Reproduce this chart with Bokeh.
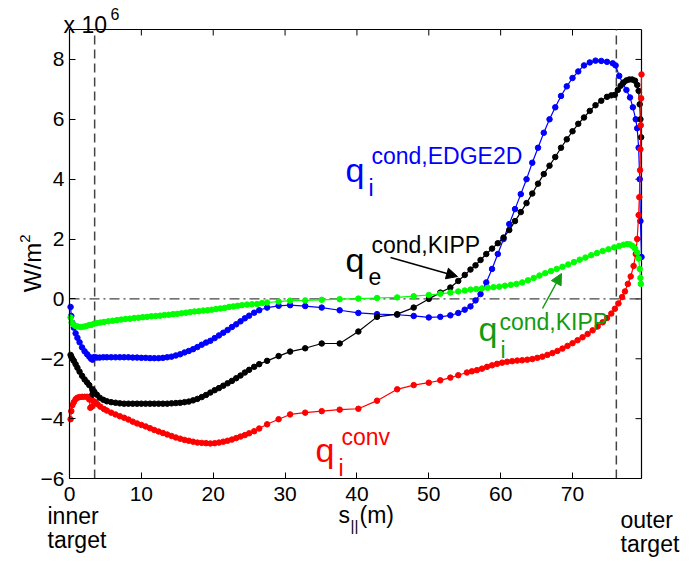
import numpy as np
from bokeh.plotting import figure
from bokeh.models import Label, LinearAxis, FixedTicker, Range1d, Arrow, NormalHead
from bokeh.embed import file_html
from bokeh.resources import INLINE

# ---------------- data (values in units of 1e6 W/m^2) ----------------
x_ticks = [0, 10, 20, 30, 40, 50, 60, 70]
y_ticks = [-6, -4, -2, 0, 2, 4, 6, 8]
target_lines = [3.5, 76.1]

s_blue = [0.15, 0.25, 0.4, 0.6, 0.85, 1.1, 1.4, 1.75, 2.1, 2.45,
          2.75, 3.0, 3.2, 3.45, 3.8, 4.2, 4.7, 5.2, 5.8, 6.4,
          7.0, 7.6, 8.2, 8.8, 9.4, 10.0, 10.6, 11.2, 11.8, 12.4,
          13.0, 13.6, 14.2, 14.8, 15.4, 16.0, 16.6, 17.2, 17.8, 18.4,
          19.0, 19.6, 20.2, 20.8, 21.4, 22.0, 22.6, 23.2, 23.8, 24.4,
          25.0, 25.7, 26.4, 27.5, 29.1, 30.7, 32.8, 35.1, 37.6, 40.2,
          42.8, 45.6, 47.9, 50.0, 51.6, 53.0, 54.1, 55.0, 55.8, 56.5,
          57.2, 58.0, 58.8, 59.6, 60.4, 61.2, 62.0, 62.8, 63.6, 64.4,
          65.2, 66.0, 66.8, 67.6, 68.4, 69.2, 70.0, 70.8, 71.6, 72.4,
          73.2, 74.0, 74.8, 75.6, 76.0, 76.5, 77.0, 77.5, 78.0, 78.4,
          78.8, 79.0, 79.2, 79.35, 79.45, 79.6]
q_blue = [-0.27, -0.57, -0.8, -0.96, -1.15, -1.3, -1.45, -1.62, -1.75, -1.85,
          -1.93, -2.0, -2.03, -1.94, -1.96, -1.96, -1.95, -1.95, -1.95, -1.95,
          -1.95, -1.95, -1.95, -1.96, -1.96, -1.97, -1.97, -1.98, -1.98, -1.98,
          -1.97, -1.95, -1.93, -1.89, -1.85, -1.79, -1.74, -1.68, -1.61, -1.53,
          -1.46, -1.40, -1.31, -1.22, -1.13, -1.04, -0.94, -0.85, -0.75, -0.65,
          -0.56, -0.46, -0.38, -0.29, -0.23, -0.21, -0.24, -0.29, -0.38, -0.47,
          -0.51, -0.53, -0.57, -0.62, -0.6, -0.55, -0.47, -0.36, -0.25, -0.05,
          0.16, 0.55, 1.0, 1.5, 2.0, 2.5, 3.0, 3.5, 4.0, 4.55,
          5.05, 5.55, 6.0, 6.4, 6.78, 7.1, 7.38, 7.6, 7.8, 7.9,
          7.96, 7.95, 7.92, 7.87, 7.8, 7.45, 7.2, 6.98, 6.73, 6.4,
          6.0, 5.7, 5.05, 4.0, 2.6, 1.4]

s_black = [0.15, 0.25, 0.4, 0.6, 0.85, 1.1, 1.4, 1.75, 2.1, 2.45,
           2.75, 3.0, 3.2, 3.45, 3.8, 4.2, 4.7, 5.2, 5.8, 6.4,
           7.0, 7.6, 8.2, 8.8, 9.4, 10.0, 10.6, 11.2, 11.8, 12.4,
           13.0, 13.6, 14.2, 14.8, 15.4, 16.0, 16.6, 17.2, 17.8, 18.4,
           19.0, 19.6, 20.2, 20.8, 21.4, 22.0, 22.6, 23.2, 23.8, 24.4,
           25.0, 25.7, 26.4, 27.5, 29.1, 30.7, 32.8, 35.1, 37.6, 40.2,
           42.8, 45.6, 47.9, 50.0, 51.6, 53.0, 54.1, 55.0, 55.8, 56.5,
           57.2, 58.0, 58.8, 59.6, 60.4, 61.2, 62.0, 62.8, 63.6, 64.4,
           65.2, 66.0, 66.8, 67.6, 68.4, 69.2, 70.0, 70.8, 71.6, 72.4,
           73.2, 74.0, 74.8, 75.4, 75.9, 76.3, 76.7, 77.1, 77.5, 77.9,
           78.3, 78.7, 79.0, 79.2, 79.35, 79.45, 79.55]
q_black = [-1.87, -1.93, -2.0, -2.07, -2.18, -2.3, -2.43, -2.57, -2.69, -2.79,
           -2.88, -3.25, -3.02, -3.1, -3.2, -3.3, -3.37, -3.42, -3.45, -3.47,
           -3.49, -3.5, -3.5, -3.5, -3.5, -3.5, -3.5, -3.5, -3.5, -3.5,
           -3.5, -3.5, -3.49, -3.48, -3.47, -3.45, -3.43, -3.39, -3.34, -3.28,
           -3.21, -3.13, -3.05, -2.98, -2.9, -2.82, -2.74, -2.65, -2.56, -2.46,
           -2.37, -2.27, -2.18, -2.07, -1.91, -1.76, -1.65, -1.49, -1.49, -1.09,
           -0.6, -0.51, -0.29, 0.0, 0.21, 0.38, 0.6, 0.8, 0.98, 1.12,
           1.3, 1.5, 1.68, 1.86, 2.05, 2.3, 2.6, 2.9, 3.2, 3.52,
           3.85, 4.17, 4.45, 4.74, 5.05, 5.33, 5.6, 5.85, 6.06, 6.28,
           6.47, 6.62, 6.75, 6.8, 6.82, 6.98, 7.12, 7.23, 7.3, 7.33,
           7.33, 7.29, 7.15, 6.95, 6.5, 6.0, 5.4]

s_red = [0.15, 0.25, 0.4, 0.6, 0.85, 1.1, 1.4, 1.75, 2.1, 2.45,
         2.75, 2.9, 3.1, 3.3, 3.6, 3.9, 4.3, 4.8, 5.2, 5.8,
         6.4, 7.0, 7.6, 8.2, 8.8, 9.4, 10.0, 10.6, 11.2, 11.8,
         12.4, 13.0, 13.6, 14.2, 14.8, 15.4, 16.0, 16.6, 17.2, 17.8,
         18.4, 19.0, 19.6, 20.2, 20.8, 21.4, 22.0, 22.6, 23.2, 23.8,
         24.4, 25.0, 25.7, 26.4, 27.5, 29.1, 30.7, 32.8, 35.1, 37.6,
         40.2, 42.8, 45.6, 47.9, 50.0, 51.6, 53.0, 54.1, 55.3, 56.0,
         56.7, 57.4, 58.1, 58.8, 59.5, 60.2, 60.9, 61.6, 62.3, 63.0,
         63.7, 64.4, 65.1, 65.8, 66.5, 67.2, 67.9, 68.6, 69.3, 70.0,
         70.7, 71.4, 72.1, 72.8, 73.5, 74.2, 74.8, 75.4, 75.9, 76.4,
         76.9, 77.3, 77.7, 78.1, 78.5, 78.8, 79.0, 79.2, 79.3, 79.4,
         79.45, 79.5, 79.55, 79.6]
q_red = [-4.02, -3.75, -3.55, -3.45, -3.35, -3.3, -3.28, -3.27, -3.27, -3.27,
         -3.36, -3.64, -3.6, -3.41, -3.45, -3.52, -3.6, -3.68, -3.73, -3.8,
         -3.86, -3.92, -3.97, -4.03, -4.1, -4.16, -4.21, -4.26, -4.32, -4.38,
         -4.43, -4.48, -4.53, -4.58, -4.63, -4.67, -4.71, -4.74, -4.77, -4.8,
         -4.81, -4.82, -4.83, -4.82, -4.8, -4.77, -4.74, -4.7, -4.65, -4.6,
         -4.55, -4.49, -4.42, -4.33, -4.19, -4.02, -3.86, -3.80, -3.75, -3.7,
         -3.67, -3.4, -3.02, -2.88, -2.8, -2.72, -2.63, -2.55, -2.46, -2.42,
         -2.38, -2.33, -2.27, -2.22, -2.17, -2.13, -2.1, -2.08, -2.06, -2.05,
         -2.03, -2.01, -1.97, -1.93, -1.87, -1.81, -1.74, -1.66, -1.57, -1.48,
         -1.38, -1.28, -1.17, -1.05, -0.92, -0.78, -0.64, -0.49, -0.33, -0.15,
         0.06, 0.25, 0.5, 0.75, 1.1, 1.5, 2.0, 2.8, 3.4, 4.3,
         5.0, 5.8, 6.7, 7.5]

s_green = [0.15, 0.3, 0.5, 0.8, 1.1, 1.5, 1.9, 2.3, 2.7, 3.0,
           3.4, 3.8, 4.3, 4.8, 5.4, 6.0, 6.6, 7.2, 7.8, 8.4,
           9.0, 9.6, 10.2, 10.8, 11.4, 12.0, 12.6, 13.2, 13.8, 14.4,
           15.0, 15.6, 16.2, 16.8, 17.4, 18.0, 18.6, 19.2, 19.8, 20.4,
           21.0, 21.6, 22.2, 22.8, 23.4, 24.0, 24.7, 25.4, 26.1, 26.8,
           27.5, 29.1, 30.7, 32.8, 35.1, 37.6, 40.2, 42.8, 45.6, 47.9,
           50.0, 51.6, 53.0, 54.1, 55.0, 55.8, 56.6, 57.4, 58.2, 59.0,
           59.8, 60.6, 61.4, 62.2, 63.0, 63.8, 64.6, 65.4, 66.2, 67.0,
           67.8, 68.6, 69.4, 70.2, 71.0, 71.8, 72.6, 73.4, 74.2, 75.0,
           75.8, 76.5, 77.1, 77.6, 78.0, 78.4, 78.7, 79.0, 79.2, 79.35,
           79.45, 79.5]
q_green = [-0.62, -0.79, -0.85, -0.9, -0.92, -0.94, -0.93, -0.91, -0.88, -0.87,
           -0.83, -0.81, -0.79, -0.77, -0.75, -0.73, -0.71, -0.69, -0.67, -0.66,
           -0.64, -0.63, -0.61, -0.6, -0.58, -0.57, -0.56, -0.54, -0.53, -0.51,
           -0.5, -0.48, -0.46, -0.44, -0.42, -0.41, -0.39, -0.38, -0.36, -0.34,
           -0.32, -0.3, -0.27, -0.25, -0.23, -0.21, -0.19, -0.18, -0.17, -0.14,
           -0.12, -0.09, -0.06, -0.05, -0.03, -0.01, 0.01, 0.03, 0.05, 0.09,
           0.13, 0.17, 0.21, 0.25, 0.28, 0.31, 0.33, 0.35, 0.37, 0.39,
           0.41, 0.44, 0.47, 0.5, 0.55, 0.62, 0.7, 0.78, 0.86, 0.93,
           1.0, 1.07, 1.15, 1.23, 1.31, 1.38, 1.46, 1.53, 1.6, 1.66,
           1.72, 1.77, 1.81, 1.83, 1.82, 1.76, 1.68, 1.55, 1.35, 1.0,
           0.7, 0.5]

assert len(s_blue) == len(q_blue)
assert len(s_black) == len(q_black)
assert len(s_red) == len(q_red)
assert len(s_green) == len(q_green)

# ---------------- layout ----------------
W, H = 696, 571
FL, FR, FT, FB = 69, 641, 29, 478          # data box edges in pixels
XMAX, YMIN, YMAX = 79.6, -6.0, 9.0
FONT = "Liberation Sans"
TICK = 6                                    # tick length, px


def dx(px):
    return (px - FL) / (FR - FL) * XMAX


def dy(py):
    return YMAX - (py - FT) / (FB - FT) * (YMAX - YMIN)


PX_X = XMAX / (FR - FL)                    # data units per pixel
PX_Y = (YMAX - YMIN) / (FB - FT)

# the frame covers the whole canvas; axes sit at fixed data locations
p = figure(width=W, height=H, x_range=Range1d(dx(0), dx(W)), y_range=Range1d(dy(H), dy(0)),
           output_backend="svg", toolbar_location=None,
           x_axis_location=None, y_axis_location=None, min_border=0)
p.xgrid.visible = False
p.ygrid.visible = False
p.outline_line_color = None
p.background_fill_color = "white"
p.border_fill_color = "white"

xax = LinearAxis(fixed_location=YMIN, bounds=(0, XMAX), ticker=FixedTicker(ticks=x_ticks))
yax = LinearAxis(fixed_location=0, bounds=(YMIN, YMAX), ticker=FixedTicker(ticks=y_ticks))
for ax in (xax, yax):
    ax.major_tick_in = TICK
    ax.major_tick_out = 0
    ax.minor_tick_line_color = None
    ax.axis_line_color = "black"
    ax.axis_line_width = 1.2
    ax.major_tick_line_color = "black"
    ax.major_label_text_font = FONT
    ax.major_label_text_font_size = "21px"
    ax.major_label_text_color = "black"
xax.major_label_standoff = 8
yax.major_label_standoff = 5
p.add_layout(xax, "below")
p.add_layout(yax, "left")

# top and right sides of the box with inward ticks
p.segment(x0=[0, XMAX], y0=[YMAX, YMIN], x1=[XMAX, XMAX], y1=[YMAX, YMAX],
          line_color="black", line_width=1.2)
p.segment(x0=x_ticks, y0=[YMAX] * len(x_ticks), x1=x_ticks,
          y1=[YMAX - TICK * PX_Y] * len(x_ticks), line_color="black", line_width=1)
p.segment(x0=[XMAX] * len(y_ticks), y0=y_ticks, x1=[XMAX - TICK * PX_X] * len(y_ticks),
          y1=y_ticks, line_color="black", line_width=1)

# reference lines
p.segment(x0=target_lines, y0=[YMIN] * 2, x1=target_lines, y1=[YMAX] * 2,
          line_color="#444444", line_width=1.5, line_dash="9 5")
p.segment(x0=[0], y0=[0], x1=[XMAX], y1=[0],
          line_color="#444444", line_width=1.2, line_dash="10 4 2 4")

# curves
curves = [(s_blue, q_blue, "#0000ff"), (s_black, q_black, "#000000"),
          (s_red, q_red, "#ff0000"), (s_green, q_green, "#00ff00")]
for xs, ys, col in curves:
    p.line(xs, ys, line_color=col, line_width=1.2)
    p.scatter(xs, ys, size=5.5, fill_color=col, line_color=col, marker="circle")


def lab(text, px, py, size, color="black", align="left", baseline="alphabetic", angle=0):
    p.add_layout(Label(x=dx(px), y=dy(py), text=text, text_font=FONT,
                       text_font_size=f"{size}px", text_color=color,
                       text_align=align, text_baseline=baseline, angle=angle))


QS, SS = 34, 23
GREEN_TXT = "#129b12"
# q_i cond,EDGE2D (blue)
lab("q", 345, 169, QS, "#0000ff")
lab("i", 368, 187, SS, "#0000ff")
lab("cond,EDGE2D", 371, 155, SS, "#0000ff")
# q_e cond,KIPP (black)
lab("q", 345, 259, QS, "black")
lab("e", 368, 276, SS, "black")
lab("cond,KIPP", 371, 244, SS, "black")
# q_i cond,KIPP (green)
lab("q", 478, 328, QS, GREEN_TXT)
lab("i", 500, 349, SS, GREEN_TXT)
lab("cond,KIPP", 499, 321, SS, GREEN_TXT)
# q_i conv (red)
lab("q", 315, 449, QS, "#ff0000")
lab("i", 338, 467, SS, "#ff0000")
lab("conv", 341, 436, SS, "#ff0000")

# arrows
p.add_layout(Arrow(end=NormalHead(size=11, fill_color="black", line_color="black"),
                   x_start=dx(390), y_start=dy(257), x_end=dx(457), y_end=dy(276),
                   line_color="black", line_width=1.5))
p.add_layout(Arrow(end=NormalHead(size=11, fill_color=GREEN_TXT, line_color=GREEN_TXT),
                   x_start=dx(542), y_start=dy(308), x_end=dx(561), y_end=dy(273),
                   line_color=GREEN_TXT, line_width=1.5))

# axis texts
lab("x 10", 63, 24, 23)
lab("6", 110, 13, 16)
lab("W/m", 32, 267, 24, angle=np.pi / 2, align="center", baseline="middle")
lab("2", 24, 238, 15, angle=np.pi / 2, align="center", baseline="middle")
lab("s", 338, 514, 23)
lab("||", 350, 525, 15)
lab("(m)", 359, 514, 23)
lab("inner", 47, 515, 23)
lab("target", 47, 539, 23)
lab("outer", 620, 519, 23)
lab("target", 620, 543, 23)

open("out.html", "w").write(file_html(p, INLINE))
